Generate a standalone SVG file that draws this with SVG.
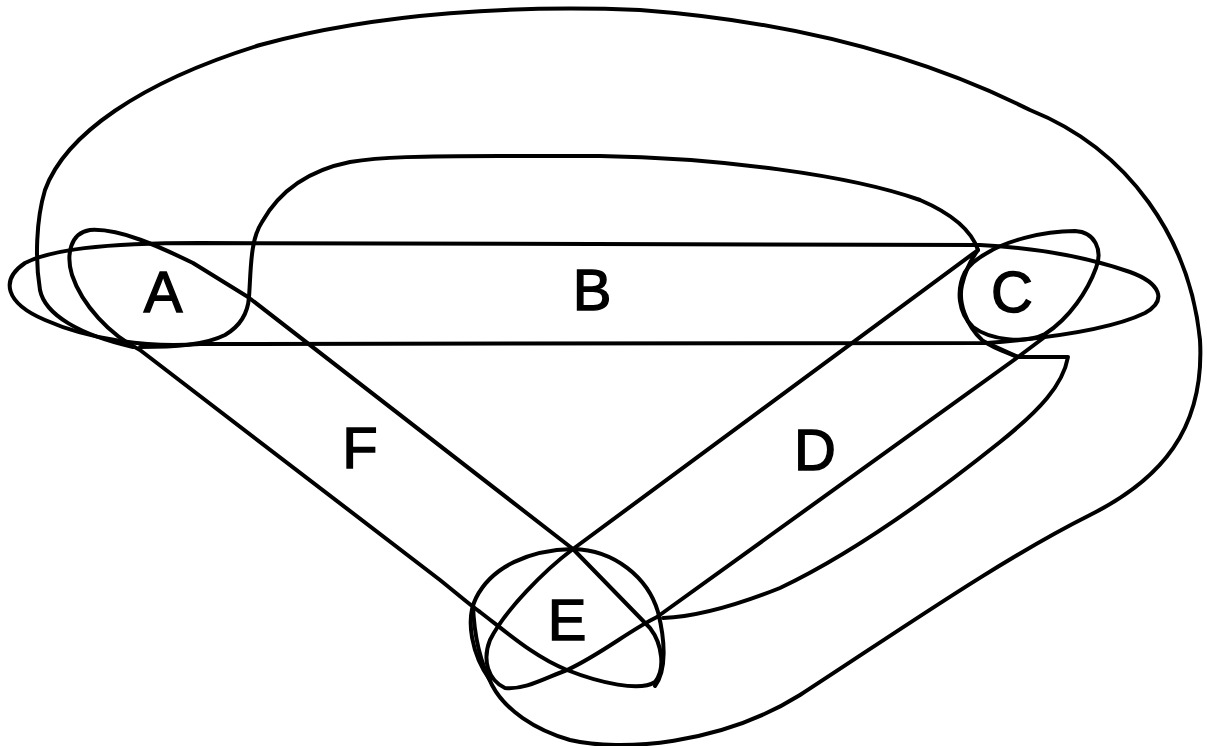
<svg xmlns="http://www.w3.org/2000/svg" width="1207" height="746" viewBox="0 0 1207 746">
<style>
.ln{fill:none;stroke:#000;stroke-width:4;stroke-linejoin:round;stroke-linecap:round}
.lb{font-family:"Liberation Sans",Arial,sans-serif;font-size:58px;fill:#000;stroke:#000;stroke-width:1.4;text-anchor:middle}
</style>
<rect width="1207" height="746" fill="#fff"/>
<g id="connectors">
  <path id="edge-B" class="ln" d="M200,243 L980,245 C1040,248 1090,258 1130,272 C1160,283 1168,300 1145,313 C1110,330 1050,338 987,343 L200,344 C150,348 90,340 45,320 C5,303 0,280 25,263 C50,250 100,243 200,243 Z"/>
  <path id="edge-F" class="ln" d="M193,263 C160,247 120,228 90,230 C70,233 66,255 72,275 C82,305 110,335 140,350 L440,580 C455,592 470,605 480,612 C510,635 535,657 567,670 C600,683 640,692 655,682 C665,670 663,645 650,628 L573,549 L248,297 Z"/>
  <path id="edge-D" class="ln" d="M978,250 L573,549 C545,570 505,610 490,640 C482,660 488,680 505,688 C525,690 545,678 567,670 C600,655 630,630 657,617 L1018,357 C1005,352 992,348 982,340 C966,325 958,302 962,285 C966,268 972,258 978,250 Z"/>
  <path id="edge-AC" class="ln" d="M140,347 C175,347 205,345 225,335 C242,325 248,312 249,297 C251,270 250,240 262,222 C280,190 310,170 350,162 C380,157 420,156 500,156 L600,156 C720,158 850,175 920,200 C955,215 972,232 978,250"/>
  <path id="edge-CE" class="ln" d="M985,342 L1018,357 L1046,336 M1018,357 L1068,357 C1063,385 1040,410 1000,442 C940,490 860,550 780,588 C730,608 690,617 663,618"/>
  <path id="edge-outer" class="ln" d="M133,347 C80,335 45,315 40,290 C35,260 36,220 45,190 C65,135 140,82 260,45 C380,12 520,5 640,10 C800,22 930,60 1030,110 C1130,150 1190,240 1200,340 C1205,430 1160,480 1090,515 C1000,560 900,630 800,695 C720,745 620,752 570,740 C535,730 505,710 492,685 C480,662 474,635 473,605"/>
  <text class="lb" x="592" y="310">B</text>
  <text class="lb" x="815" y="470">D</text>
  <text class="lb" x="360" y="468">F</text>
</g>
<g id="node-A">
  <text class="lb" x="163" y="312">A</text>
</g>
<g id="node-C">
  <path class="ln" d="M987,253 C1005,242 1040,231 1075,231 C1095,232 1103,250 1096,268 C1088,290 1070,318 1045,334 C1025,344 990,340 973,327 C958,313 956,290 965,272 C970,264 978,258 987,253 Z"/>
  <text class="lb" x="1012" y="312">C</text>
</g>
<g id="node-E">
  <path class="ln" d="M490,680 C472,655 465,620 476,598 C492,566 530,550 573,549 C615,550 648,578 658,612 C665,640 667,670 655,686"/>
  <text class="lb" x="567" y="640">E</text>
</g>
</svg>
